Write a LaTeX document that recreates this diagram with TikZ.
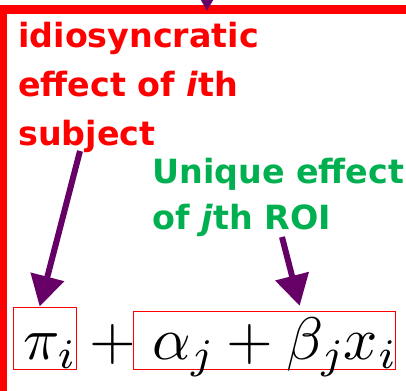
\RequirePackage{fix-cm}
\documentclass[tikz,border=0pt]{standalone}
\usepackage{fontspec}
\newfontfamily\slidefont{DejaVu Sans}
\DeclareFontShape{OML}{cmm}{m}{it}{<-28>cmmi10 <28-40>cmmi7 <40->cmmi10}{}
\DeclareFontShape{OT1}{cmr}{m}{n}{<->cmr10}{}
\usetikzlibrary{arrows.meta,positioning}
\definecolor{plum}{RGB}{102,0,102}
\definecolor{leaf}{RGB}{0,176,80}
\definecolor{alert}{RGB}{255,0,0}

\begin{document}
\begin{tikzpicture}[x=0.75pt,y=-0.75pt,
  frame/.style={draw=alert,line width=7.1pt},
  note/.style={inner sep=0pt,align=left,anchor=north west},
  pointer/.style={draw=plum,line width=4.5pt,-{Triangle[length=23pt,width=25pt]}},
  termbox/.style={draw=alert,line width=0.75pt,inner sep=0pt,anchor=base west,text depth=7.5pt,font=\fontsize{45}{50}\selectfont}]
\useasboundingbox (0,0) rectangle (406,391);
\clip (0,0) rectangle (406,391);
\draw[frame] (2.5,9.5) rectangle (430,400);
% labels
\node[note,text=alert,font=\slidefont\bfseries\fontsize{25}{36.75}\selectfont] (subj) at (18,21.5) {idiosyncratic\\effect of \textit{i}th\\subject};
\node[note,text=leaf,font=\slidefont\bfseries\fontsize{25}{34.5}\selectfont] (roi) at (152,158) {Unique effect\\of \textit{j}th ROI};
% the model terms
\node[termbox,text height=39pt,minimum width=47.25pt] (pibox) at (13,359) {\hspace*{6pt}$\pi_i$};
\node[inner sep=0pt,anchor=base,font=\fontsize{45}{50}\selectfont] (plus) at (112.5,359) {$+$};
\node[termbox,text height=36pt,minimum width=195.75pt] (abbox) at (133,359) {\hspace*{14pt}$\alpha_j+\beta_jx_i$};
% arrows
\coordinate (src) at (207,-60);
\coordinate (hit) at (207,11);
\coordinate (s1) at (80,151);
\coordinate (s2) at (282,237);
\draw[pointer] (src) -- (hit);
\draw[pointer] (s1) -- ([xshift=20pt]pibox.north west);
\draw[pointer] (s2) -- ([xshift=125pt,yshift=3.5pt]abbox.north west);
\end{tikzpicture}
\end{document}
